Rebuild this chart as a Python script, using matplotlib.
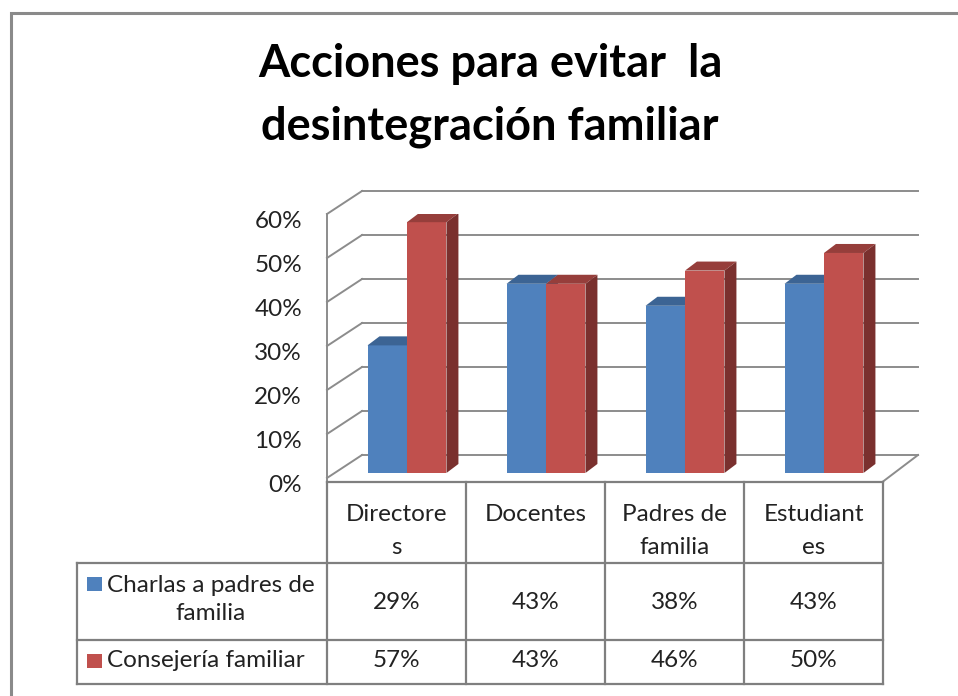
import matplotlib
matplotlib.use("Agg")
import matplotlib.pyplot as plt
from matplotlib.patches import Rectangle, Polygon
from matplotlib.transforms import ScaledTranslation

plt.rcParams['font.family'] = ['Lato', 'DejaVu Sans']

# data
categories = ['Directore\ns', 'Docentes', 'Padres de\nfamilia', 'Estudiant\nes']
series_names = ['Charlas a padres de\nfamilia', 'Consejería familiar']
charlas = [29, 43, 38, 43]
consejeria = [57, 43, 46, 50]
yticks = [0, 10, 20, 30, 40, 50, 60]
title_lines = ['Acciones para evitar  la', 'desintegración familiar']

front_colors = ['#4F81BD', '#C0504D']
top_colors = ['#3C6494', '#963E3B']
side_colors = ['#3A5F8A', '#7A302E']
grid_color = '#8C8C8C'
line_color = '#7F7F7F'
text_color = '#222222'
fs = 17.5

W, H = 958, 696
fig = plt.figure(figsize=(W / 100, H / 100), dpi=100)

# outer chart border (runs off the right/bottom of the picture)
fig.add_artist(Rectangle((11 / W, -0.2), 1.0, (H - 13) / H + 0.2, transform=fig.transFigure,
                         fill=False, ec='#8A8A8A', lw=2.2))

# title
fig.text(490 / W, (H - 77) / H, title_lines[0], ha='center', va='baseline',
         fontsize=32.5, fontweight='bold', color='black')
fig.text(490 / W, (H - 140) / H, title_lines[1], ha='center', va='baseline',
         fontsize=32.5, fontweight='bold', color='black')

# front plane of the plot: x in category units, y in percent
ax = fig.add_axes([327 / W, (H - 478) / H, 556 / W, 264 / H])
ax.set_xlim(-0.5, 3.5)
ax.set_ylim(0, 60)
for s in ax.spines.values():
    s.set_visible(False)
ax.set_xticks([])
ax.set_yticks(yticks)
ax.set_yticklabels([f'{t}%' for t in yticks], fontsize=fs, color=text_color)
ax.tick_params(axis='y', length=0, pad=18)
shift = ScaledTranslation(0, -0.05, fig.dpi_scale_trans)
for lab in ax.get_yticklabels():
    lab.set_transform(lab.get_transform() + shift)

# walls and floor (fake 3D)
wdx, wdy = 0.252, 5.23
x0, x1 = -0.5, 3.5
ytab = [-0.8, -19.3, -36.8, -46.8]
for t in yticks:
    ax.plot([x0 + wdx, x1 + wdx], [t + wdy, t + wdy], color=grid_color, lw=1.4,
            clip_on=False, zorder=1)
    ax.plot([x0, x0 + wdx], [t, t + wdy], color=grid_color, lw=1.4, clip_on=False, zorder=1)
ax.plot([x0, x0], [ytab[0], 60], color=grid_color, lw=1.4, clip_on=False, zorder=1)
ax.plot([x1, x1 + wdx], [ytab[0], wdy], color=grid_color, lw=1.4, clip_on=False, zorder=1)

# bars
bw = 0.284
bdx, bdy = 0.0755, 1.14   # bar front plane offset
ddx, ddy = 0.086, 2.05    # bar depth
for i in range(len(categories)):
    for k, vals in enumerate([charlas, consejeria]):
        v = vals[i]
        left = i + bdx - bw + k * bw
        b = bdy
        ax.add_patch(Rectangle((left, b), bw, v, fc=front_colors[k], ec='none', zorder=3))
        ax.add_patch(Polygon([(left, b + v), (left + bw, b + v), (left + bw + ddx, b + v + ddy),
                              (left + ddx, b + v + ddy)], closed=True, fc=top_colors[k],
                             ec='none', zorder=3))
        ax.add_patch(Polygon([(left + bw, b), (left + bw + ddx, b + ddy),
                              (left + bw + ddx, b + v + ddy), (left + bw, b + v)], closed=True,
                             fc=side_colors[k], ec='none', zorder=3))

# data table below
tl = -2.3
tkw = dict(color=line_color, lw=1.6, clip_on=False, zorder=2)
ax.plot([x0, x1], [ytab[0], ytab[0]], **tkw)
for yy in ytab[1:]:
    ax.plot([tl, x1], [yy, yy], **tkw)
for xx in [-0.5, 0.5, 1.5, 2.5, 3.5]:
    ax.plot([xx, xx], [ytab[0], ytab[3]], **tkw)
ax.plot([tl, tl], [ytab[1], ytab[3]], **tkw)

for i, cat in enumerate(categories):
    for j, line in enumerate(cat.split('\n')):
        ax.text(i, -8.4 - j * 7.5, line, ha='center', va='center', fontsize=fs,
                color=text_color, clip_on=False)

row_y = [-27.6, -41.4]
val_y = [-28.4, -41.4]
key_y = [-24.1, -41.5]
for k, (name, vals) in enumerate(zip(series_names, [charlas, consejeria])):
    ax.add_patch(Rectangle((-2.227, key_y[k] - 1.6), 0.108, 3.2, fc=front_colors[k],
                           ec='none', clip_on=False))
    ax.text(-2.085, row_y[k], name, ha='left', va='center', multialignment='center',
            fontsize=fs, color=text_color, linespacing=1.4, clip_on=False)
    for i, v in enumerate(vals):
        ax.text(i, val_y[k], f'{v}%', ha='center', va='center', fontsize=fs,
                color=text_color, clip_on=False)

fig.savefig('out.png', dpi=100)
